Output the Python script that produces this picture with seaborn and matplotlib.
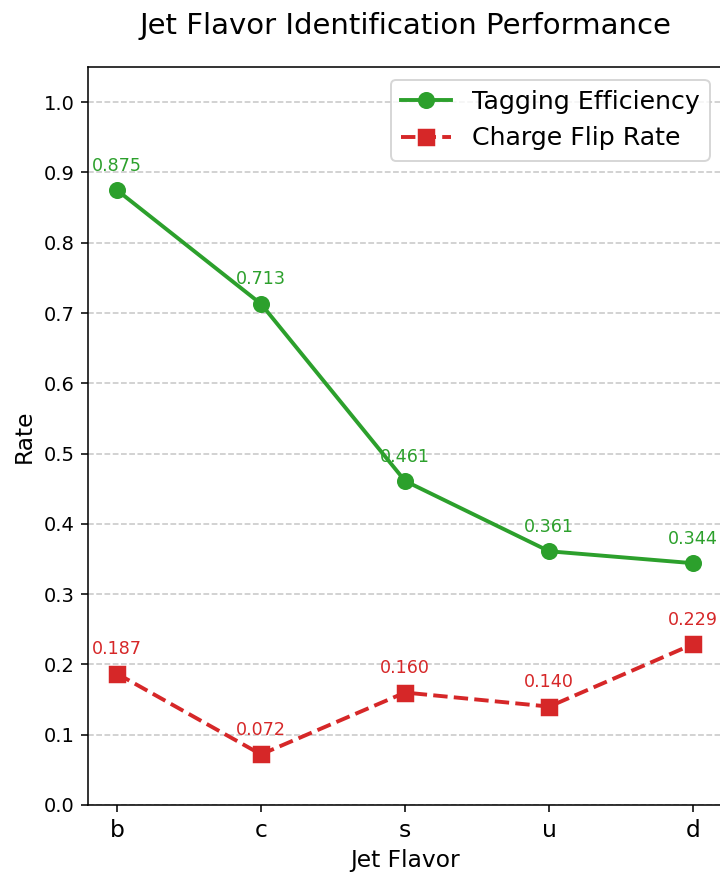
import pandas as pd
import matplotlib
matplotlib.use('Agg')
import matplotlib.pyplot as plt
import seaborn as sns

flavors = ['b', 'c', 's', 'u', 'd']
tag_eff = [0.875, 0.713, 0.461, 0.361, 0.344]
flip_rate = [0.187, 0.072, 0.160, 0.140, 0.229]

green = '#2ca02c'
red = '#d62728'

df = pd.DataFrame({'flavor': flavors, 'eff': tag_eff, 'flip': flip_rate})

fig = plt.figure(figsize=(720 / 140, 872 / 140), dpi=140)
ax = fig.add_axes([88 / 720, 1 - 805 / 872, 1.003 - 88 / 720, (805 - 67) / 872])

sns.lineplot(data=df, x='flavor', y='eff', ax=ax, color=green, marker='o',
             markersize=8, markeredgecolor=green, linewidth=2,
             label='Tagging Efficiency', sort=False)
sns.lineplot(data=df, x='flavor', y='flip', ax=ax, color=red, marker='s',
             markersize=8, markeredgecolor=red, linewidth=2, linestyle='--',
             label='Charge Flip Rate', sort=False)

# value labels above each point
for i, v in enumerate(tag_eff):
    ax.annotate(f'{v:.3f}', (i, v), xytext=(0, 10), textcoords='offset points',
                ha='center', fontsize=9, color=green)
for i, v in enumerate(flip_rate):
    ax.annotate(f'{v:.3f}', (i, v), xytext=(0, 10), textcoords='offset points',
                ha='center', fontsize=9, color=red)

ax.set_ylim(0, 1.05)
ax.set_yticks([i / 10 for i in range(11)])
ax.set_xlim(-0.2, 4.2)
ax.set_xlabel('Jet Flavor', fontsize=12)
ax.set_ylabel('Rate', fontsize=12)
ax.tick_params(axis='x', labelsize=12)
ax.tick_params(axis='y', labelsize=10)
ax.grid(axis='y', linestyle='--', alpha=0.7)
ax.set_title('Jet Flavor Identification Performance', fontsize=15, pad=17)
ax.legend(loc='upper right', fontsize=13)

fig.savefig('out.png', dpi=140)
